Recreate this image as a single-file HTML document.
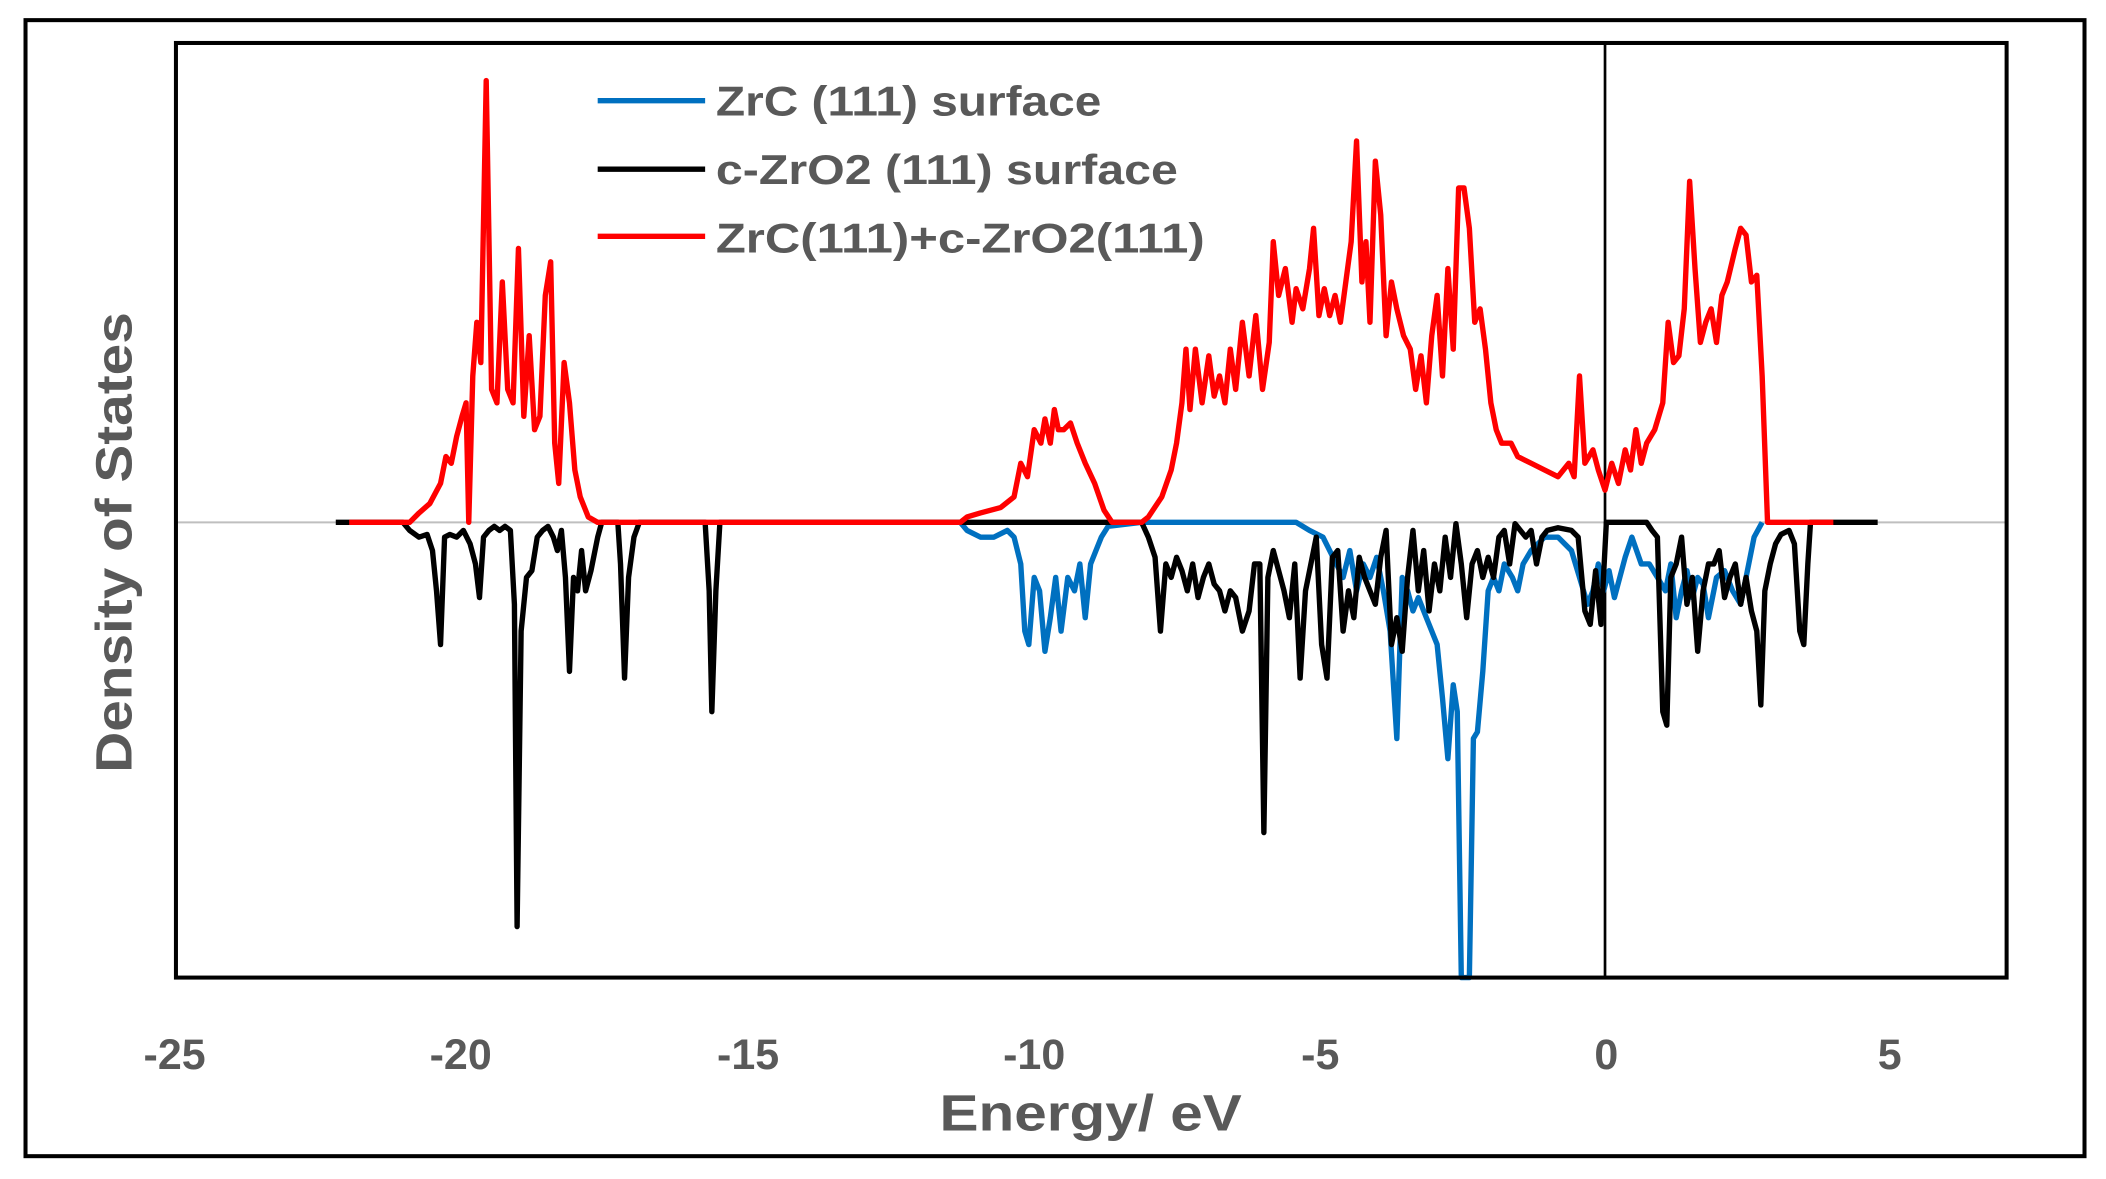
<!DOCTYPE html>
<html><head><meta charset="utf-8"><style>html,body{margin:0;padding:0;background:#fff}svg{display:block}</style></head><body>
<svg width="2106" height="1179" viewBox="0 0 1568 878" preserveAspectRatio="none" xmlns="http://www.w3.org/2000/svg">
<rect x="0" y="0" width="1568" height="878" fill="#fff"/>
<rect x="19" y="15" width="1533" height="846" fill="none" stroke="#000" stroke-width="3"/>
<line x1="130" y1="389" x2="1494" y2="389" stroke="#bfbfbf" stroke-width="1.5"/>
<line x1="1195" y1="32" x2="1195" y2="728" stroke="#000" stroke-width="2"/>
<g fill="none" stroke-width="4" stroke-linejoin="round">
<polyline stroke="#0070c0" points="715,389 720,395 730,400 740,400 750,395 755,400 760,420 763,470 766,480 770,430 774,440 778,485 782,460 786,430 790,470 795,430 800,440 804,420 808,460 812,420 816,410 820,400 825,392 850,389 965,389 975,395 985,400 990,410 995,420 1000,430 1005,410 1010,440 1015,420 1020,430 1025,415 1030,440 1035,470 1040,550 1044,430 1048,440 1052,455 1056,445 1062,460 1066,470 1070,480 1074,520 1078,565 1082,510 1085,530 1088,728 1094,728 1097,550 1100,545 1104,500 1108,440 1112,430 1116,440 1120,420 1126,430 1130,440 1134,420 1140,410 1150,400 1160,400 1170,410 1176,430 1182,450 1186,440 1190,420 1194,440 1198,425 1202,445 1206,430 1210,415 1215,400 1222,420 1228,420 1234,430 1240,440 1244,420 1248,460 1252,440 1256,425 1260,445 1264,430 1268,435 1272,460 1278,430 1284,425 1290,440 1296,450 1302,420 1306,400 1312,389"/>
<polyline stroke="#000" points="250,389 300,389 305,395 312,400 318,398 322,410 325,440 328,480 331,400 335,398 340,400 345,395 350,405 354,420 357,445 360,400 364,395 368,392 372,395 376,392 380,395 383,450 385,690 388,470 392,430 396,425 400,400 404,395 408,392 412,400 415,410 418,395 421,430 424,500 427,430 430,440 433,410 436,440 440,425 445,400 448,389 460,389 462,420 465,505 468,430 472,400 476,389 525,389 528,440 530,530 533,440 536,389 850,389 855,400 860,415 864,470 868,420 872,430 876,415 880,425 884,440 888,420 892,445 896,430 900,420 904,435 908,440 912,455 916,440 920,445 925,470 930,455 934,420 938,420 941,620 944,430 948,410 952,425 956,440 960,460 964,420 968,505 972,440 976,420 980,400 984,480 988,505 992,415 996,410 1000,470 1004,440 1008,460 1012,415 1016,430 1020,440 1024,450 1028,415 1032,395 1036,480 1040,460 1044,485 1048,430 1052,395 1056,440 1060,410 1064,455 1068,420 1072,440 1076,400 1080,430 1084,390 1088,420 1092,460 1096,420 1100,410 1104,430 1108,415 1112,430 1116,400 1120,395 1124,420 1128,390 1132,395 1136,400 1140,395 1144,420 1148,400 1152,395 1160,393 1170,395 1175,400 1180,455 1184,465 1188,425 1192,465 1196,389 1226,389 1230,395 1234,400 1238,530 1241,540 1244,430 1248,420 1252,400 1256,450 1260,430 1264,485 1268,440 1272,420 1276,420 1280,410 1284,445 1288,430 1292,420 1296,450 1300,430 1304,455 1308,470 1311,525 1314,440 1318,420 1322,405 1326,398 1332,395 1336,405 1340,470 1343,480 1346,420 1348,389 1398,389"/>
<polyline stroke="#ff0000" points="260,389 305,389 312,382 320,375 328,360 332,340 336,345 340,325 344,310 347,300 349,389 352,280 355,240 358,270 362,60 366,290 370,300 374,210 378,290 382,300 386,185 390,310 394,250 398,320 402,310 406,220 410,195 413,330 416,360 420,270 424,300 428,350 432,370 438,385 445,389 715,389 720,385 730,382 745,378 755,370 760,345 765,355 770,320 775,330 778,312 782,330 785,305 788,320 792,320 797,315 802,330 808,345 815,360 822,380 828,389 850,389 855,385 865,370 872,350 876,330 880,300 883,260 886,305 890,260 895,300 900,265 904,295 908,280 912,300 916,260 920,290 925,240 930,280 935,235 940,290 945,255 948,180 952,220 957,200 962,240 965,215 970,230 975,200 978,170 982,235 986,215 990,235 994,220 998,240 1002,210 1006,180 1010,105 1014,210 1017,180 1020,240 1024,120 1028,160 1032,250 1036,210 1040,230 1045,250 1050,260 1054,290 1058,265 1062,300 1066,250 1070,220 1074,280 1078,200 1082,260 1086,140 1090,140 1094,170 1098,240 1102,230 1106,260 1110,300 1114,320 1118,330 1125,330 1130,340 1140,345 1150,350 1160,355 1168,345 1172,355 1176,280 1180,345 1186,335 1190,350 1195,365 1200,345 1205,360 1210,335 1214,350 1218,320 1222,345 1226,330 1232,320 1238,300 1242,240 1246,270 1250,265 1254,230 1258,135 1262,200 1266,255 1270,240 1274,230 1278,255 1282,220 1286,210 1292,185 1296,170 1300,175 1304,210 1308,205 1312,280 1316,389 1365,389"/>
</g>
<rect x="131" y="32" width="1363" height="696" fill="none" stroke="#000" stroke-width="3"/>
<g stroke-width="4">
<line x1="445" y1="75" x2="525" y2="75" stroke="#0070c0"/>
<line x1="445" y1="126" x2="525" y2="126" stroke="#000"/>
<line x1="445" y1="176" x2="525" y2="176" stroke="#ff0000"/>
</g>
<g font-family="'Liberation Sans', sans-serif" font-weight="bold" fill="#595959">
<text x="533" y="86" font-size="31" textLength="287" lengthAdjust="spacingAndGlyphs">ZrC (111) surface</text>
<text x="533" y="137" font-size="31" textLength="344" lengthAdjust="spacingAndGlyphs">c-ZrO2 (111) surface</text>
<text x="533" y="188" font-size="31" textLength="364" lengthAdjust="spacingAndGlyphs">ZrC(111)+c-ZrO2(111)</text>
<g font-size="32" text-anchor="middle">
<text x="130" y="796">-25</text><text x="343" y="796">-20</text><text x="557" y="796">-15</text><text x="770" y="796">-10</text><text x="983" y="796">-5</text><text x="1196" y="796">0</text><text x="1407" y="796">5</text>
</g>
<text x="812" y="842" font-size="38" text-anchor="middle" textLength="225" lengthAdjust="spacingAndGlyphs">Energy/ eV</text>
<text transform="translate(98,404) rotate(-90)" font-size="38" text-anchor="middle" textLength="343" lengthAdjust="spacingAndGlyphs">Density of States</text>
</g>
</svg>
</body></html>
